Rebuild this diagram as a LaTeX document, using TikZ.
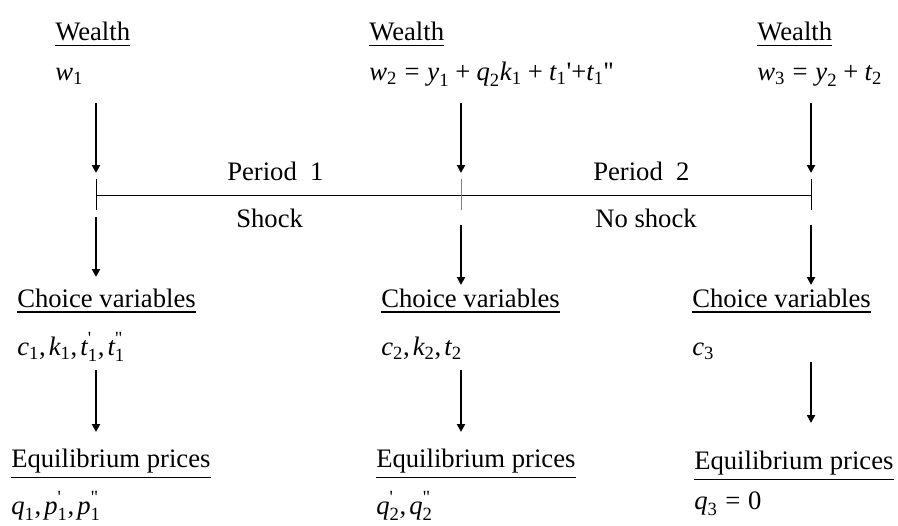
\documentclass[tikz,border=0pt]{standalone}
\usepackage{amsmath}
\usepackage{fontspec}
\setmainfont{Liberation Serif}
\usetikzlibrary{arrows.meta}

\newcommand{\vr}[2]{\textit{#1}_{\textrm{#2}}}
\newcommand{\pl}{\mathbin{\textrm{+}}}
\newcommand{\eqs}{\mathrel{\textrm{=}}}
\newcommand{\sq}{\textrm{\textquotesingle}}
\newcommand{\dq}{\textrm{\textquotedbl}}
\newcommand{\cm}{\mathord{\textrm{,}}\mkern2mu}

\begin{document}
\begin{tikzpicture}[x=0.75pt,y=-0.75pt,>={Triangle[length=6pt,width=6pt]},
  font=\fontsize{20}{24}\selectfont,
  every node/.style={inner sep=0pt,anchor=base west},
  flow/.style={->,line width=1.5pt},
  uline/.style={line width=1pt}]
\useasboundingbox (0,0) rectangle (898,525);
% time line
\draw[line width=0.75pt] (96,195) -- (811,195);
\foreach \n/\x/\c in {a/96/black,b/461/gray,c/811/black} {
  \draw[line width=0.75pt,\c] (\x,179) -- (\x,210);
}
\node (pone) at (227,180) {Period\ \ 1};
\node (ptwo) at (593,180) {Period\ \ 2};
\node (shk) at (236,227) {Shock};
\node (nshk) at (595,227) {No shock};
% wealth
\node (wa) at (55,40) {Wealth};
\node (wb) at (369,40) {Wealth};
\node (wc) at (757,40) {Wealth};
\node (va) at (55,80) {$\vr{w}{1}$};
\node (vb) at (369,80) {$\vr{w}{2}\eqs\vr{y}{1}\pl\vr{q}{2}\vr{k}{1}\pl\vr{t}{1}\sq\mathord{\textrm{+}}\vr{t}{1}\sq\sq$};
\node (vc) at (757,80) {$\vr{w}{3}\eqs\vr{y}{2}\pl\vr{t}{2}$};
% choice variables
\node (ca) at (17,307) {Choice variables};
\node (cb) at (381,307) {Choice variables};
\node (cc) at (692,307) {Choice variables};
\node (xa) at (17,355) {$\vr{c}{1}\cm\vr{k}{1}\cm\textit{t}^{\sq}_{\textrm{1}}\cm\textit{t}^{\dq}_{\textrm{1}}$};
\node (xb) at (381,355) {$\vr{c}{2}\cm\vr{k}{2}\cm\vr{t}{2}$};
\node (xc) at (692,355) {$\vr{c}{3}$};
% equilibrium prices
\node (ea) at (11,467) {Equilibrium prices};
\node (eb) at (376,467) {Equilibrium prices};
\node (ec) at (694,469) {Equilibrium prices};
\node (pa) at (11,514) {$\vr{q}{1}\cm\textit{p}^{\sq}_{\textrm{1}}\cm\textit{p}^{\dq}_{\textrm{1}}$};
\node (pb) at (376,514) {$\textit{q}^{\sq}_{\textrm{2}}\cm\textit{q}^{\dq}_{\textrm{2}}$};
\node (pc) at (694,509) {$\vr{q}{3}\eqs\textrm{0}$};
% underlines
\foreach \u in {wa,wb,wc,ca,cb,cc,ea,eb,ec} {
  \draw[uline] ([yshift=-3.4pt]\u.south west) -- ([yshift=-3.4pt]\u.south east);
}
% arrows
\foreach \n/\x/\ya/\yb/\yc/\yd in {a/96/217/277/370/432,b/461/225/285/370/432,c/811/225/285/362/423} {
  \coordinate (in\n) at (\x,103);
  \coordinate (tk\n) at (\x,173);
  \coordinate (out\n) at (\x,\ya);
  \coordinate (ch\n) at (\x,\yb);
  \coordinate (pr\n) at (\x,\yc);
  \coordinate (eq\n) at (\x,\yd);
  \draw[flow] (in\n) -- (tk\n);
  \draw[flow] (out\n) -- (ch\n);
  \draw[flow] (pr\n) -- (eq\n);
}
\end{tikzpicture}
\end{document}
